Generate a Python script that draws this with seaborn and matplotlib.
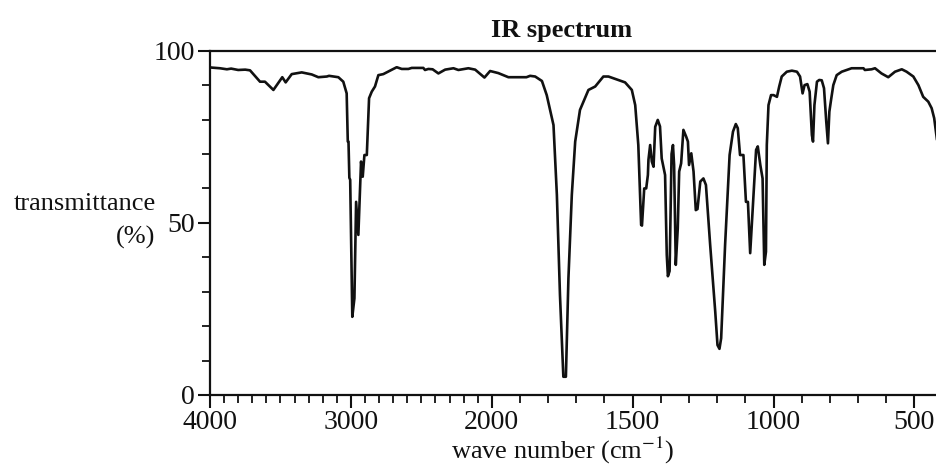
import numpy as np
import pandas as pd
import matplotlib
matplotlib.use("Agg")
import matplotlib.pyplot as plt
from matplotlib.ticker import MultipleLocator
import seaborn as sns

# wave numbers (cm-1) and transmittance (%)
wave_number = [
    4000, 3990, 3929, 3880, 3850, 3800, 3750, 3716, 3645, 3610, 3550, 3487, 3463, 3420,
    3349, 3278, 3231, 3171, 3155, 3089, 3054, 3030, 3022, 3017, 3011, 3005, 2990, 2975,
    2963, 2947, 2928, 2916, 2904, 2887, 2871, 2852, 2829, 2805, 2770, 2722, 2675, 2639,
    2592, 2568, 2486, 2474, 2450, 2420, 2379, 2331, 2272, 2237, 2166, 2118, 2052, 2012,
    1977, 1941, 1877, 1864, 1846, 1822, 1805, 1781, 1769, 1758, 1746, 1737, 1728, 1716,
    1704, 1687, 1657, 1633, 1604, 1586, 1527, 1503, 1491, 1480, 1470, 1467, 1459, 1452,
    1446, 1444, 1438, 1432, 1426, 1420, 1411, 1403, 1397, 1385, 1379, 1375, 1369, 1362,
    1357, 1353, 1347, 1340, 1335, 1328, 1320, 1310, 1304, 1300, 1292, 1284, 1276, 1270,
    1260, 1249, 1240, 1225, 1207, 1199, 1192, 1186, 1172, 1156, 1144, 1134, 1127, 1119,
    1107, 1098, 1091, 1083, 1071, 1062, 1056, 1047, 1039, 1033, 1027, 1024, 1018, 1009,
    1000, 988, 980, 971, 953, 935, 917, 906, 897, 890, 880, 872, 864, 860, 855, 846, 838,
    829, 821, 813, 807, 802, 796, 788, 776, 758, 723, 681, 676, 652, 640, 617, 593, 569,
    545, 528, 504, 486, 469, 451, 439, 430, 420,
]
transmittance = [
    95.2, 95.1, 94.9, 94.6, 94.8, 94.4, 94.5, 94.3, 91.0, 91.0, 88.6, 92.3, 90.8, 93.2,
    93.7, 93.1, 92.3, 92.5, 92.7, 92.3, 91.0, 87.6, 73.6, 73.6, 63.1, 62.5, 22.7, 28.1,
    56.1, 46.5, 67.8, 63.4, 69.7, 69.7, 86.2, 88.1, 89.6, 92.9, 93.2, 94.2, 95.2, 94.7,
    94.7, 95.0, 95.0, 94.4, 94.7, 94.6, 93.4, 94.5, 94.9, 94.4, 94.9, 94.5, 92.2, 94.1,
    93.5, 92.3, 92.3, 92.7, 92.5, 91.2, 87.1, 78.4, 58.1, 29.0, 5.3, 5.3, 33.9, 58.1,
    73.6, 82.8, 88.6, 89.6, 92.5, 92.5, 90.8, 88.6, 84.2, 72.6, 49.4, 49.2, 60.0, 60.0,
    63.9, 68.3, 72.6, 67.8, 66.3, 77.9, 79.9, 78.0, 68.7, 63.9, 40.7, 34.5, 36.0, 70.0,
    72.6, 66.8, 37.8, 48.4, 64.9, 67.3, 77.0, 75.0, 73.6, 66.8, 70.2, 64.9, 53.7, 54.0,
    62.0, 62.9, 61.0, 43.6, 24.2, 14.5, 13.4, 16.5, 43.6, 69.7, 76.5, 78.7, 77.5, 69.7,
    69.7, 56.1, 56.1, 41.2, 58.1, 71.2, 72.2, 66.8, 62.9, 37.8, 41.6, 72.6, 84.2, 87.1,
    87.1, 86.6, 89.6, 92.5, 93.9, 94.2, 93.9, 92.5, 87.6, 90.0, 90.3, 88.1, 75.5, 73.6,
    84.2, 91.0, 91.5, 91.4, 89.1, 79.4, 73.1, 82.3, 85.7, 90.0, 92.9, 93.9, 94.9, 94.9,
    94.4, 94.6, 94.9, 93.4, 92.3, 93.9, 94.6, 93.9, 92.5, 90.0, 86.6, 85.2, 83.3, 80.4,
    74.1,
]
x_ticks = [4000, 3000, 2000, 1500, 1000, 500]
y_ticks = [0, 50, 100]

df = pd.DataFrame({"wn": wave_number, "T": transmittance})

sns.set_style("ticks")
plt.rcParams["font.family"] = ["Liberation Serif", "DejaVu Serif"]
plt.rcParams["mathtext.fontset"] = "stix"


# scale changes at 2000 cm-1 (above it half as many pixels per unit)
def fwd(w):
    w = np.asarray(w, dtype=float)
    return np.where(w > 2000, 2000 + (w - 2000) / 2, w)


def inv(u):
    u = np.asarray(u, dtype=float)
    return np.where(u > 2000, 2000 + (u - 2000) * 2, u)


fig = plt.figure(figsize=(9.37, 4.74), dpi=100)
ax = fig.add_axes([210 / 937, 1 - 395 / 474, 727 / 937, (395 - 50.7) / 474])
ax.set_xscale("function", functions=(fwd, inv))

sns.lineplot(data=df, x="wn", y="T", sort=False, estimator=None,
             color="#111111", linewidth=1.9, ax=ax)

ax.set_xlim(4000, 420)
ax.set_ylim(0, 100)
ax.set_xticks(x_ticks)
ax.set_xticklabels([str(t) for t in x_ticks])
ax.xaxis.set_minor_locator(MultipleLocator(100))
ax.set_yticks(y_ticks)
ax.yaxis.set_minor_locator(MultipleLocator(10))

ax.tick_params(which="major", length=9, width=1.5, labelsize=20, colors="#111111", pad=2)
ax.tick_params(which="minor", length=6, width=1.3, colors="#111111")

for side in ["left", "bottom", "top"]:
    ax.spines[side].set_linewidth(1.6)
    ax.spines[side].set_color("#111111")
ax.spines["right"].set_visible(False)

ax.set_xlabel("wave number (cm$^{-1}$)", fontsize=19, color="#111111")
ax.xaxis.set_label_coords((563 - 210) / 727, -0.115)
ax.set_ylabel("transmittance\n(%)", fontsize=19, rotation=0, ha="right", va="center",
              multialignment="right", color="#111111", linespacing=1.65)
ax.yaxis.set_label_coords(-0.075, 0.505)
ax.set_title("IR spectrum", fontsize=19, fontweight="bold", color="#111111",
             x=(562 - 210) / 727, pad=10)

fig.savefig("out.png", dpi=100)
